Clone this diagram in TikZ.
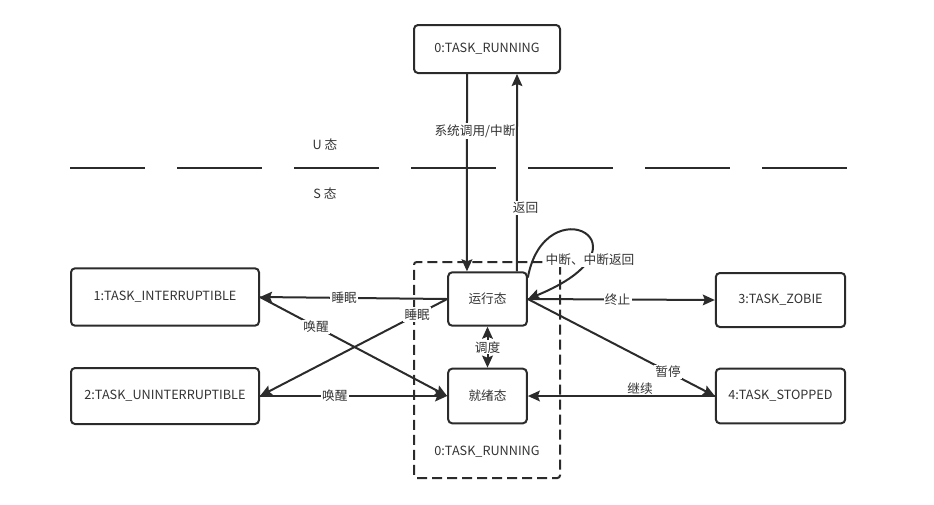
\documentclass[tikz,border=0pt]{standalone}
\usepackage{fontspec}
\setmainfont{Noto Sans CJK SC}
\usetikzlibrary{arrows.meta}
\definecolor{ln}{HTML}{2B2B2B}
\definecolor{txt}{HTML}{333333}

\begin{document}
\begin{tikzpicture}[x=0.75pt, y=-0.75pt, font=\fontsize{9.5}{11}\selectfont,
    >={Stealth[length=9pt, width=8pt, inset=1.5pt]},
    box/.style={draw=ln, line width=1.5pt, rounded corners=3pt, fill=white, inner sep=0pt, text=txt},
    group/.style={draw=ln, line width=1.5pt, dash pattern=on 7.5pt off 3.75pt, rounded corners=2pt},
    conn/.style={draw=ln, line width=1.5pt},
    lbl/.style={fill=white, inner sep=1pt, text=txt}]
    \useasboundingbox (0,0) rectangle (934,504);

    % U / S boundary
    \coordinate (bndl) at (70,168);
    \coordinate (bndr) at (852,168);
    \draw[draw=ln, line width=1.5pt, dash pattern=on 63.75pt off 24pt, dash phase=7.5pt] (bndl) -- (bndr);
    \node[text=txt] (ulbl) at (325,145) {U 态};
    \node[text=txt] (slbl) at (325,194) {S 态};

    % User space
    \node[box, minimum width=109.5pt, minimum height=36pt] (top) at (487,49) {0:TASK\_RUNNING};

    % Running group
    \node[group, minimum width=109.5pt, minimum height=162pt] (grp) at (487,370) {};
    \node[text=txt] (grplbl) at (487,452) {0:TASK\_RUNNING};
    \node[box, minimum width=59pt, minimum height=40pt] (run) at (487.5,299) {运行态};
    \node[box, minimum width=59pt, minimum height=41pt] (ready) at (487.5,396) {就绪态};

    % Other states
    \node[box, minimum width=141pt, minimum height=43pt] (intr) at (165,297) {1:TASK\_INTERRUPTIBLE};
    \node[box, minimum width=141pt, minimum height=42pt] (unintr) at (165,396) {2:TASK\_UNINTERRUPTIBLE};
    \node[box, minimum width=97pt, minimum height=40.5pt] (zob) at (780.5,300) {3:TASK\_ZOBIE};
    \node[box, minimum width=97pt, minimum height=41pt] (stop) at (780.5,396) {4:TASK\_STOPPED};

    % Arrows
    \draw[conn, ->] ([xshift=-15pt]top.south) -- ([xshift=-15.4pt]run.north) node[lbl, pos=0.29, xshift=6pt] {系统调用/中断};
    \draw[conn, ->] ([xshift=22.1pt]run.north) -- ([xshift=22.5pt]top.south) node[lbl, pos=0.32, xshift=6.5pt] {返回};
    \draw[conn, ->] (run.28) .. controls (545,185) and (660,245) .. (run.east) node[lbl, pos=0.75, xshift=3pt] {中断、中断返回};
    \draw[conn, ->] (run.west) -- node[lbl, pos=0.55] {睡眠} (intr.east);
    \draw[conn, ->] (run.west) -- node[lbl, pos=0.16] {睡眠} (unintr.east);
    \draw[conn, ->] (intr.east) -- node[lbl, pos=0.3] {唤醒} (ready.west);
    \draw[conn, ->] (unintr.east) -- node[lbl, pos=0.4] {唤醒} (ready.west);
    \draw[conn, ->] (run.east) -- node[lbl, pos=0.48] {终止} (zob.west);
    \draw[conn, ->] (run.east) -- node[lbl, pos=0.75] {暂停} (stop.west);
    \draw[conn, ->] (stop.west) -- node[lbl, pos=0.4, above, inner sep=0.5pt] {继续} (ready.east);
    \draw[conn, <->] (run.south) -- node[lbl] {调度} (ready.north);
\end{tikzpicture}
\end{document}
